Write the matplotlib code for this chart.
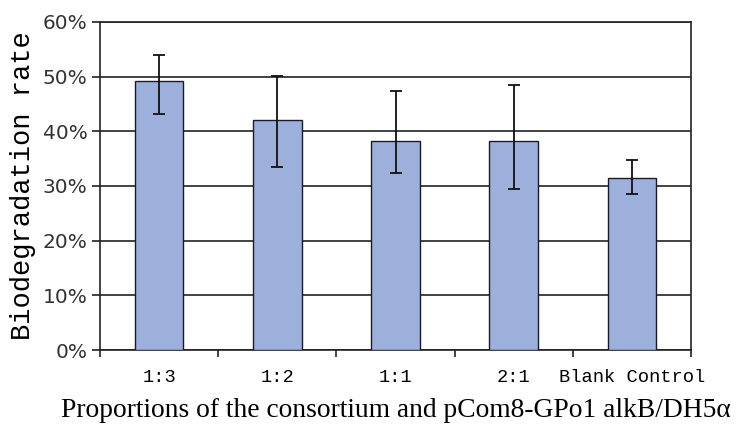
import matplotlib
matplotlib.use("Agg")
import matplotlib.pyplot as plt
from matplotlib.ticker import PercentFormatter, FixedLocator, NullFormatter

# Data (percent)
categories = ["1:3", "1:2", "1:1", "2:1", "Blank Control"]
rates      = [49.2, 42.0, 38.2, 38.2, 31.5]
err_low    = [6.0, 8.6, 5.8, 8.8, 3.0]
err_high   = [4.8, 8.1, 9.2, 10.3, 3.3]

fig = plt.figure(figsize=(7.41, 4.26), dpi=100)
axis = fig.add_axes([0.135, 0.1784, 0.7975, 0.77])

positions = list(range(len(categories)))
axis.bar(positions, rates, width=0.41, color="#9DB0DC", edgecolor="#1a1a2a",
         linewidth=1.0, zorder=3)
axis.errorbar(positions, rates, yerr=[err_low, err_high], fmt="none",
              ecolor="#111111", elinewidth=1.3, capsize=4, capthick=1.3, zorder=4)

axis.set_xlim(-0.5, len(categories) - 0.5)
axis.set_ylim(0, 60)
axis.set_yticks([0, 10, 20, 30, 40, 50, 60])
axis.yaxis.set_major_formatter(PercentFormatter(decimals=0))
axis.yaxis.grid(True, color="#222222", linewidth=1.2, zorder=0)

# category labels in the middle, tick marks on the boundaries
axis.set_xticks(positions)
axis.set_xticklabels(categories, family="Liberation Mono", fontsize=13.5)
axis.tick_params(axis="x", which="major", length=0, pad=14)
axis.xaxis.set_minor_locator(FixedLocator([p - 0.5 for p in positions] + [len(categories) - 0.5]))
axis.xaxis.set_minor_formatter(NullFormatter())
axis.tick_params(axis="x", which="minor", length=5, width=1.2, color="#222222")
axis.tick_params(axis="y", length=6, width=1.2, color="#222222", labelsize=14.5, pad=3)
for label in axis.get_yticklabels():
    label.set_color("#333333")

for spine in axis.spines.values():
    spine.set_color("#222222")
    spine.set_linewidth(1.2)

axis.set_ylabel("Biodegradation rate", family="Liberation Mono", fontsize=19.5, labelpad=5)
axis.set_xlabel("Proportions of the consortium and pCom8-GPo1 alkB/DH5\u03b1",
                family="Liberation Serif", fontsize=19.8, labelpad=8)

fig.savefig("out.png", dpi=100)
